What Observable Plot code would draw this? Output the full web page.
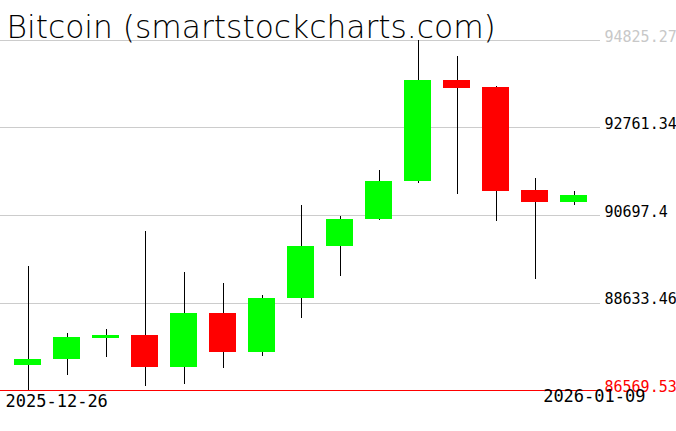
<!DOCTYPE html>
<html><head><meta charset="utf-8">
<script src="https://cdn.jsdelivr.net/npm/d3@7"></script>
<script src="https://cdn.jsdelivr.net/npm/@observablehq/plot@0.6"></script>
<style>body{margin:0;background:#fff;overflow:hidden}</style>
</head><body><div id="chart"></div>
<script>
const title = "Bitcoin (smartstockcharts.com)";
const dates = ["2025-12-26","2025-12-27","2025-12-28","2025-12-29","2025-12-30","2025-12-31","2026-01-01","2026-01-02","2026-01-03","2026-01-04","2026-01-05","2026-01-06","2026-01-07","2026-01-08","2026-01-09"];
const open  = [87167, 87290, 87790, 87875, 87103, 88394, 87473, 88740, 89960, 90600, 91490, 93893, 93720, 91290, 91013];
const high  = [89503, 87922, 88016, 90329, 89361, 89102, 88812, 90943, 90683, 91769, 94825.27, 94459, 93735, 91580, 91273];
const low   = [86569.53, 86931, 87339, 86654, 86702, 87079, 87362, 88259, 89267, 90577, 91462, 91186, 90565, 89196, 90943];
const close = [87308, 87827, 87875, 87103, 88394, 87473, 88748, 89975, 90612, 91509, 93893, 93704, 91273, 91013, 91178];
const yTicks = [86569.53, 88633.46, 90697.4, 92761.34, 94825.27];
const yTickColors = ["#ff0000", "#000000", "#000000", "#000000", "#c8c8c8"];
const dateLabels = ["2025-12-26", "2026-01-09"];

const data = dates.map((d, i) => ({date: d, open: open[i], high: high[i], low: low[i], close: close[i]}));
const tickData = yTicks.map((v, i) => ({v, color: yTickColors[i]}));
const mono = "DejaVu Sans Mono";

const chart = Plot.plot({
  width: 676,
  height: 431,
  marginTop: 40,
  marginBottom: 41,
  marginLeft: 0,
  marginRight: 76,
  style: {background: "#fff", overflow: "visible"},
  x: {type: "band", domain: dates, padding: 0.31, round: true, axis: null},
  y: {domain: [yTicks[0], yTicks[yTicks.length - 1]], axis: null},
  marks: [
    Plot.ruleY(yTicks.slice(1), {stroke: "#cccccc", strokeWidth: 1, shapeRendering: "crispEdges"}),
    Plot.ruleY([yTicks[0]], {stroke: "#ff0000", strokeWidth: 1, shapeRendering: "crispEdges"}),
    Plot.ruleX(data, {x: "date", y1: "low", y2: "high", stroke: "#000", strokeWidth: 1, shapeRendering: "crispEdges"}),
    Plot.barY(data, {x: "date", y1: "open", y2: "close", fill: d => d.close >= d.open ? "#00ff00" : "#ff0000", shapeRendering: "crispEdges"}),
    Plot.text(tickData, {y: "v", text: d => String(d.v), fill: "color", frameAnchor: "right", textAnchor: "start", lineAnchor: "bottom", dx: 4, dy: 1, fontFamily: mono, fontSize: 15}),
    Plot.text([dateLabels[0]], {frameAnchor: "bottom-left", textAnchor: "start", lineAnchor: "bottom", dx: 5, dy: 16, fontFamily: mono, fontSize: 17, fill: "#000"}),
    Plot.text([dateLabels[1]], {frameAnchor: "bottom-right", textAnchor: "end", lineAnchor: "bottom", dx: 45, dy: 11, fontFamily: mono, fontSize: 17, fill: "#000"}),
    Plot.text([title], {frameAnchor: "top-left", textAnchor: "start", lineAnchor: "bottom", dx: 6, dy: -3, fontFamily: "DejaVu Sans", fontWeight: 200, fontSize: 31.3, fill: "#000"})
  ]
});
document.getElementById("chart").appendChild(chart);
</script>
</body></html>
